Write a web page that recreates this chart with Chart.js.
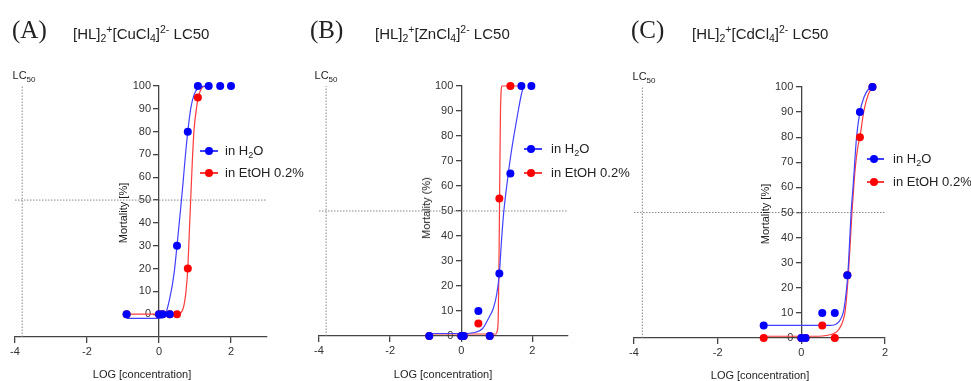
<!DOCTYPE html>
<html><head><meta charset="utf-8">
<script src="https://cdn.jsdelivr.net/npm/chart.js@4"></script>
<style>
body{margin:0;width:971px;height:381px;position:relative;background:#fff;overflow:hidden;font-family:"Liberation Sans",Arial,sans-serif;color:#222;}
canvas{position:absolute;top:0;}
.t{position:absolute;white-space:nowrap;line-height:16px;}
.pl{font-family:"Liberation Serif","Times New Roman",serif;font-size:25px;line-height:26px;}
.ch{font-size:15px;}
.ch .sb{font-size:10.5px;vertical-align:-3px;}
.ch .sp{font-size:10.5px;vertical-align:6px;}
.lc{font-size:11px;transform:translate(-50%,-50%);}
.lc .sb{font-size:8px;vertical-align:-3px;}
.yt{font-size:11px;transform:translate(-50%,-50%) rotate(-90deg);}
.xt{font-size:11px;transform:translate(-50%,-50%);}
.lg{position:absolute;font-size:13px;white-space:nowrap;}
.lg .sb{font-size:9px;vertical-align:-3px;}
.seg{position:absolute;height:1.5px;}
.dot{position:absolute;width:8px;height:8px;border-radius:50%;}
</style></head>
<body>
<canvas id="cA" width="320" height="381" style="left:0px"></canvas>
<canvas id="cB" width="330" height="381" style="left:305px"></canvas>
<canvas id="cC" width="351" height="381" style="left:620px"></canvas>

<div class="t pl" style="left:12px;top:17px">(A)</div>
<div class="t ch" style="left:73px;top:21px">[HL]<span class="sb">2</span><span class="sp">+</span>[CuCl<span class="sb">4</span>]<span class="sp">2-</span> LC50</div>
<div class="t pl" style="left:310px;top:17px">(B)</div>
<div class="t ch" style="left:375px;top:21px">[HL]<span class="sb">2</span><span class="sp">+</span>[ZnCl<span class="sb">4</span>]<span class="sp">2-</span> LC50</div>
<div class="t pl" style="left:631px;top:17px">(C)</div>
<div class="t ch" style="left:692px;top:21px">[HL]<span class="sb">2</span><span class="sp">+</span>[CdCl<span class="sb">4</span>]<span class="sp">2-</span> LC50</div>

<div class="t lc" style="left:24px;top:77px">LC<span class="sb">50</span></div>
<div class="t lc" style="left:326px;top:77px">LC<span class="sb">50</span></div>
<div class="t lc" style="left:644px;top:78px">LC<span class="sb">50</span></div>

<div class="t yt" style="left:123px;top:213px">Mortality [%]</div>
<div class="t yt" style="left:426px;top:208px">Mortality (%)</div>
<div class="t yt" style="left:765px;top:214px">Mortality [%]</div>

<div class="t xt" style="left:142px;top:374px">LOG [concentration]</div>
<div class="t xt" style="left:443px;top:374px">LOG [concentration]</div>
<div class="t xt" style="left:760px;top:375px">LOG [concentration]</div>

<div id="legends"></div>

<script>
// ---- axis ticks ----
const xTickValues = [-4, -2, 0, 2];
const yTickValues = [0, 10, 20, 30, 40, 50, 60, 70, 80, 90, 100];
const lc50Level = 50;
const lc50MarkerX = -3.8;
const seriesNames = ['in H\u2082O', 'in EtOH 0.2%'];

// ---- Panel A: [HL]2+[CuCl4]2- ----
const aH2O_x = [-0.9, 0, 0.1, 0.3, 0.5, 0.8, 1.08, 1.38, 1.7, 2.0];
const aH2O_y = [0, 0, 0, 0, 30, 80, 100, 100, 100, 100];
const aEtOH_x = [-0.9, 0, 0.1, 0.3, 0.5, 0.8, 1.08];
const aEtOH_y = [0, 0, 0, 0, 0, 20, 95];
const aFitH2O_x = [-0.9, 0, 0.15, 0.3, 0.42, 0.5, 0.6, 0.67, 0.73, 0.8, 0.88, 0.97, 1.08, 1.2, 1.35];
const aFitH2O_y = [-1.8, -1.8, -1, 7, 18, 30, 46, 58, 69, 80, 90, 96, 99, 99.8, 100];
const aFitEtOH_x = [-0.9, 0.5, 0.6, 0.68, 0.75, 0.8, 0.84, 0.88, 0.92, 0.97, 1.03, 1.09, 1.15, 1.22, 1.4];
const aFitEtOH_y = [0, 0, 0.5, 3, 10, 20, 35, 50, 65, 80, 89, 95, 98, 99.6, 100];

// ---- Panel B: [HL]2+[ZnCl4]2- ----
const bH2O_x = [-0.9, 0, 0.07, 0.48, 0.8, 1.07, 1.38, 1.69, 1.97];
const bH2O_y = [0, 0, 0, 10, 0, 25, 65, 100, 100];
const bEtOH_x = [-0.9, 0, 0.07, 0.48, 0.8, 1.07, 1.38];
const bEtOH_y = [0, 0, 0, 5, 0, 55, 100];
const bFitH2O_x = [-0.9, 0, 0.4, 0.6, 0.8, 0.9, 1.0, 1.07, 1.13, 1.19, 1.26, 1.33, 1.41, 1.49, 1.6, 1.68, 1.75];
const bFitH2O_y = [1, 1, 1.5, 3, 8, 11, 17, 25, 38, 49, 58, 66, 74, 81, 90, 96, 100];
const bFitEtOH_x = [-0.9, 0.97, 1.01, 1.04, 1.06, 1.08, 1.1, 1.12, 1.14, 1.7];
const bFitEtOH_y = [0.8, 0.8, 2, 8, 30, 60, 88, 98, 100, 100];

// ---- Panel C: [HL]2+[CdCl4]2- ----
const cH2O_x = [-0.9, 0, 0.1, 0.5, 0.8, 1.1, 1.4, 1.7];
const cH2O_y = [5, 0, 0, 10, 10, 25, 90, 100];
const cEtOH_x = [-0.9, 0, 0.1, 0.5, 0.8, 1.1, 1.4, 1.7];
const cEtOH_y = [0, 0, 0, 5, 0, 25, 80, 100];
const cFitH2O_x = [-0.9, 0.7, 0.8, 0.9, 1.0, 1.05, 1.11, 1.15, 1.19, 1.24, 1.28, 1.32, 1.4, 1.5, 1.6, 1.71];
const cFitH2O_y = [5, 5, 5.3, 6.5, 10, 15, 25, 37, 50, 61, 71, 80, 90, 96, 99, 100];
const cFitEtOH_x = [-0.9, 0.4, 0.6, 0.8, 0.9, 1.0, 1.05, 1.11, 1.16, 1.21, 1.26, 1.31, 1.36, 1.4, 1.49, 1.6, 1.71];
const cFitEtOH_y = [0.7, 0.7, 1, 2, 3.5, 7, 11, 22, 35, 50, 62, 71, 77, 80, 90, 97, 100];

const BLUE = '#0000ff', RED = '#ff0000';
const BLUE_LINE = '#4040ff', RED_LINE = '#ff3a3a';
const AXIS = '#444', TICKTXT = '#333', DOTTED = '#8a8a8a';

function pts(xs, ys) { return xs.map((x, i) => ({x: x, y: ys[i]})); }

// Shift y-axis tick labels left of the tick marks (the axis sits at x = 0 inside the plot)
const yLabelShift = {
  id: 'yLabelShift',
  beforeDraw(chart) {
    const s = chart.scales.y;
    const items = s.getLabelItems(chart.chartArea);
    if (!s._shifted) {
      items.forEach(it => { it.options.translation[0] -= 8; });
      s._shifted = true;
    }
  }
};

function makePanel(id, cfg) {
  const datasets = [
    {data: [{x: -4, y: lc50Level}, {x: cfg.xMax, y: lc50Level}], borderColor: DOTTED, borderWidth: 1, borderDash: [1.5, 1.5], pointRadius: 0, order: 9},
    {data: [{x: lc50MarkerX, y: cfg.yMin}, {x: lc50MarkerX, y: 100}], borderColor: DOTTED, borderWidth: 1, borderDash: [1.5, 1.5], pointRadius: 0, order: 9},
    {data: pts(cfg.fitE[0], cfg.fitE[1]), borderColor: RED_LINE, borderWidth: 1.2, pointRadius: 0, cubicInterpolationMode: 'monotone', order: 5},
    {data: pts(cfg.fitW[0], cfg.fitW[1]), borderColor: BLUE_LINE, borderWidth: 1.2, pointRadius: 0, cubicInterpolationMode: 'monotone', order: 4},
    {data: pts(cfg.ptE[0], cfg.ptE[1]), showLine: false, pointRadius: 4, pointBackgroundColor: RED, pointBorderWidth: 0, order: 2},
    {data: pts(cfg.ptW[0], cfg.ptW[1]), showLine: false, pointRadius: 4, pointBackgroundColor: BLUE, pointBorderWidth: 0, order: 1}
  ];
  datasets.forEach(d => { d.clip = false; d.fill = false; d.pointHoverRadius = d.pointRadius; });
  new Chart(document.getElementById(id), {
    type: 'line',
    data: {datasets: datasets},
    plugins: [yLabelShift],
    options: {
      responsive: false, animation: false, devicePixelRatio: 1,
      events: [],
      layout: {padding: cfg.pad},
      plugins: {legend: {display: false}, tooltip: {enabled: false}},
      scales: {
        x: {
          type: 'linear', position: 'bottom', min: -4, max: cfg.xMax,
          afterBuildTicks: s => { s.ticks = xTickValues.map(v => ({value: v})); },
          afterFit: s => { s.height = cfg.xh; },
          grid: {display: true, drawOnChartArea: false, drawTicks: true, tickLength: 6, color: AXIS, lineWidth: 1.3},
          border: {display: true, color: AXIS, width: 1.3},
          ticks: {font: {family: 'Liberation Sans', size: 11}, color: TICKTXT, padding: 2, maxRotation: 0, callback: v => String(v)}
        },
        y: {
          type: 'linear', position: {x: 0}, min: cfg.yMin, max: 100,
          afterBuildTicks: s => { s.ticks = yTickValues.map(v => ({value: v})); },
          grid: {display: true, drawOnChartArea: false, drawTicks: true, tickLength: 5, color: AXIS, lineWidth: 1.3},
          border: {display: true, color: AXIS, width: 1.3},
          ticks: {font: {family: 'Liberation Sans', size: 11}, color: TICKTXT, padding: 2, callback: v => String(v)}
        }
      }
    }
  });
}

makePanel('cA', {xMax: 3, yMin: -10, pad: {left: 15, right: 53, top: 86, bottom: 0}, xh: 44,
  ptW: [aH2O_x, aH2O_y], ptE: [aEtOH_x, aEtOH_y], fitW: [aFitH2O_x, aFitH2O_y], fitE: [aFitEtOH_x, aFitEtOH_y]});
makePanel('cB', {xMax: 3, yMin: 0, pad: {left: 14, right: 67, top: 86, bottom: 0}, xh: 45,
  ptW: [bH2O_x, bH2O_y], ptE: [bEtOH_x, bEtOH_y], fitW: [bFitH2O_x, bFitH2O_y], fitE: [bFitEtOH_x, bFitEtOH_y]});
makePanel('cC', {xMax: 2, yMin: 0, pad: {left: 14, right: 86, top: 87, bottom: 0}, xh: 43,
  ptW: [cH2O_x, cH2O_y], ptE: [cEtOH_x, cEtOH_y], fitW: [cFitH2O_x, cFitH2O_y], fitE: [cFitEtOH_x, cFitEtOH_y]});

// ---- legends (HTML) ----
const legendSpots = [
  {segL: 200, segR: 218, dot: 209, text: 225, ys: [151, 173]},
  {segL: 524, segR: 542, dot: 531, text: 551, ys: [149, 173]},
  {segL: 867, segR: 884, dot: 874, text: 893, ys: [159, 182]}
];
const legendColors = [[BLUE_LINE, BLUE], [RED_LINE, RED]];
const lgHost = document.getElementById('legends');
legendSpots.forEach(sp => {
  sp.ys.forEach((y, i) => {
    const seg = document.createElement('div');
    seg.className = 'seg';
    seg.style.cssText = `left:${sp.segL}px;width:${sp.segR - sp.segL}px;top:${y - 0.75}px;background:${legendColors[i][0]}`;
    const dot = document.createElement('div');
    dot.className = 'dot';
    dot.style.cssText = `left:${sp.dot - 4}px;top:${y - 4}px;background:${legendColors[i][1]}`;
    const tx = document.createElement('div');
    tx.className = 'lg';
    tx.style.cssText = `left:${sp.text}px;top:${y - 8}px;line-height:16px`;
    tx.innerHTML = i === 0 ? 'in H<span class="sb">2</span>O' : seriesNames[1];
    lgHost.append(seg, dot, tx);
  });
});
</script>
</body></html>
